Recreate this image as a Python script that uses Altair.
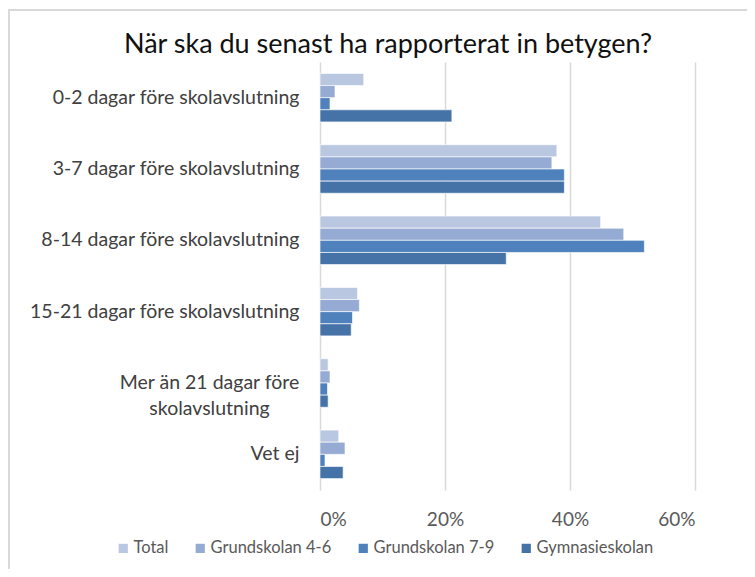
import altair as alt
import pandas as pd

categories = [
    "0-2 dagar före skolavslutning",
    "3-7 dagar före skolavslutning",
    "8-14 dagar före skolavslutning",
    "15-21 dagar före skolavslutning",
    "Mer än 21 dagar före skolavslutning",
    "Vet ej",
]
series = ["Total", "Grundskolan 4-6", "Grundskolan 7-9", "Gymnasieskolan"]
total = [7.0, 37.9, 44.9, 6.0, 1.3, 3.0]
grund_4_6 = [2.4, 37.1, 48.6, 6.3, 1.6, 4.0]
grund_7_9 = [1.6, 39.1, 51.9, 5.2, 1.2, 0.8]
gymnasie = [21.1, 39.1, 29.8, 5.0, 1.3, 3.7]
x_ticks = [0, 20, 40, 60]
colors = ["#bac7e0", "#95abd3", "#4f81bd", "#4572a7"]
title_text = "När ska du senast ha rapporterat in betygen?"
subtitle_text = "Uppdelat på var i skolväsendet man arbetar."

rows = []
for s, vals in zip(series, [total, grund_4_6, grund_7_9, gymnasie]):
    for c, v in zip(categories, vals):
        rows.append({"category": c, "series": s, "value": v})
df = pd.DataFrame(rows)

FONT = "Lato"
WRAPPED = "Mer än 21 dagar före skolavslutning"
is_wrapped = "datum.value == '" + WRAPPED + "'"

bars = alt.Chart(df).mark_bar(stroke="white", strokeWidth=0.8, strokeOpacity=0.8).encode(
    x=alt.X(
        "value:Q",
        scale=alt.Scale(domain=[0, 60], nice=False),
        axis=alt.Axis(
            values=x_ticks,
            labelExpr="datum.value + '%'",
            grid=True,
            gridColor="#d9d9d9",
            gridWidth=1.5,
            domain=False,
            ticks=False,
            labelFont=FONT,
            labelFontSize=19,
            labelColor="#595959",
            labelPadding=20,
            title=None,
        ),
    ),
    y=alt.Y(
        "category:N",
        sort=categories,
        scale=alt.Scale(paddingInner=0.32, paddingOuter=0.16),
        axis=alt.Axis(
            title=None,
            domain=False,
            ticks=False,
            grid=False,
            labelPadding={"condition": {"test": is_wrapped, "value": 111}, "value": 21},
            labelAlign={"condition": {"test": is_wrapped, "value": "center"}, "value": "right"},
            labelFont=FONT,
            labelFontSize=19.5,
            labelColor="#404040",
            labelLimit=400,
            labelLineHeight=26,
            labelExpr="datum.label == '" + WRAPPED + "' ? ['Mer än 21 dagar före', 'skolavslutning'] : datum.label",
        ),
    ),
    yOffset=alt.YOffset("series:N", sort=series, scale=alt.Scale(paddingInner=0, paddingOuter=0)),
    color=alt.Color(
        "series:N",
        sort=series,
        scale=alt.Scale(domain=series, range=colors),
        legend=alt.Legend(
            title=None,
            orient="none",
            direction="horizontal",
            columns=4,
            legendX=-205,
            legendY=478,
            symbolType="square",
            symbolSize=85,
            symbolStrokeWidth=0,
            labelFont=FONT,
            labelFontSize=16.5,
            labelColor="#595959",
            labelOffset=2,
            columnPadding=23,
            padding=0,
        ),
    ),
)

one = alt.Data(values=[{"k": 0}])

frame_left = alt.Chart(one).mark_rule(color="#d9d9d9", strokeWidth=2).encode(
    x=alt.value(-311), y=alt.value(-53), y2=alt.value(507)
)
frame_top = alt.Chart(one).mark_rule(color="#d9d9d9", strokeWidth=2).encode(
    x=alt.value(-312), x2=alt.value(427), y=alt.value(-52)
)
title = alt.Chart(one).mark_text(
    text=title_text, font=FONT, fontSize=27, color="#111111", align="center", baseline="alphabetic"
).encode(x=alt.value(68), y=alt.value(-9))
subtitle = alt.Chart(one).mark_text(
    text=subtitle_text, font=FONT, fontSize=19, color="#404040", align="center", baseline="alphabetic"
).encode(x=alt.value(65), y=alt.value(-57))

chart = alt.layer(frame_left, frame_top, subtitle, title, bars).properties(
    width=375,
    height=428,
    padding={"left": 312, "top": 54, "right": 52, "bottom": 79},
    autosize=alt.AutoSizeParams(type="none"),
).configure_view(stroke=None)

chart.save("out.html", embed_options={"renderer": "svg", "actions": False})
